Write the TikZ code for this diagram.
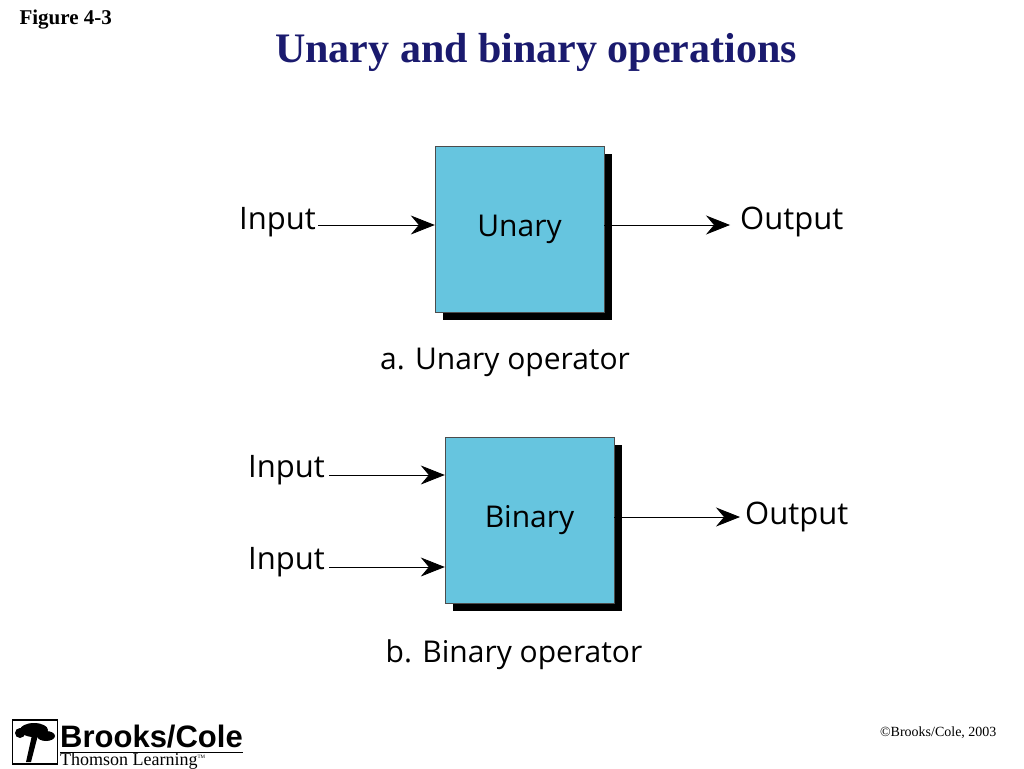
\documentclass[tikz,border=0pt]{standalone}
\usepackage{fontspec}
\setmainfont{Liberation Serif}
\setsansfont{Open Sans}
\newfontfamily\logofont{Liberation Sans}
\usetikzlibrary{arrows.meta, positioning, calc}
\definecolor{opblue}{HTML}{66C5DF}
\definecolor{titleblue}{HTML}{1A1A6E}

\begin{document}
\begin{tikzpicture}[x=1pt, y=-1pt, >={Stealth[length=24pt, width=19pt, inset=8pt]}]

        % --- Styles ---
        \tikzset{opbox/.style={rectangle, draw=black!70, fill=opblue, minimum width=169pt, minimum height=166pt, font=\sffamily\fontsize{30}{32}\selectfont},
                 shadowbox/.style={rectangle, fill=black, minimum width=169pt, minimum height=166pt},
                 lbl/.style={font=\sffamily\fontsize{31}{34}\selectfont, inner sep=0pt},
                 caption/.style={font=\sffamily\fontsize{30}{32}\selectfont},
                 arrow/.style={->, line width=0.8pt}}

        \useasboundingbox (0,0) rectangle (1024,768);

        % --- Heading ---
        \node[anchor=west, font=\bfseries\fontsize{21}{24}\selectfont] (fig) at (16,20) {Figure 4-3};
        \node[font=\bfseries\fontsize{42}{46}\selectfont, text=titleblue] (title) at (536,52) {Unary and binary operations};

        % --- a. Unary operator ---
        \node[shadowbox] (ushadow) at (527.5,237) {};
        \node[opbox] (unary) at (519.5,229) {Unary};
        \node[lbl, anchor=east] (uin) at (316,222) {Input};
        \node[lbl, anchor=west] (uout) at (740,222) {Output};
        \draw[arrow] ([xshift=2pt]uin.east |- 0,225) -- (unary.west |- 0,225);
        \draw[arrow] (unary.east |- 0,225) -- ([xshift=-10pt]uout.west |- 0,225);
        \node[caption] (ucap) at (505,362) {a. Unary operator};

        % --- b. Binary operator ---
        \node[shadowbox] (bshadow) at (537.5,528) {};
        \node[opbox] (binary) at (529.5,520) {Binary};
        \node[lbl, anchor=east] (bin1) at (325,470) {Input};
        \node[lbl, anchor=east] (bin2) at (325,562) {Input};
        \node[lbl, anchor=west] (bout) at (745,517) {Output};
        \draw[arrow] ([xshift=4pt]bin1.east |- 0,475) -- (binary.west |- 0,475);
        \draw[arrow] ([xshift=4pt]bin2.east |- 0,567) -- (binary.west |- 0,567);
        \draw[arrow] (binary.east |- 0,517) -- ([xshift=-5pt]bout.west |- 0,517);
        \node[caption] (bcap) at (514,655) {b. Binary operator};

        % --- Footer ---
        \node[draw, line width=1.2pt, minimum width=45pt, minimum height=44pt] (tree) at (35,742) {};
        \fill (20,733) ellipse (5pt and 5pt) (34,730) ellipse (14pt and 7pt) (46,736) ellipse (9pt and 5pt);
        \fill (32,735) -- (38,735) -- (31,762) -- (26,762) -- cycle;
        \node[anchor=base west, font=\logofont\bfseries\fontsize{31}{32}\selectfont, inner sep=0pt] (brooks) at (60,747) {Brooks/Cole};
        \draw[line width=1pt] (60,752) -- (brooks.east |- 0,752);
        \node[anchor=base west, font=\fontsize{18}{20}\selectfont, inner sep=0pt] (thomson) at (60,765) {Thomson Learning\textsuperscript{\tiny TM}};
        \node[anchor=east, font=\fontsize{14}{16}\selectfont] (copy) at (1000,733) {\textcopyright Brooks/Cole, 2003};
\end{tikzpicture}
\end{document}
